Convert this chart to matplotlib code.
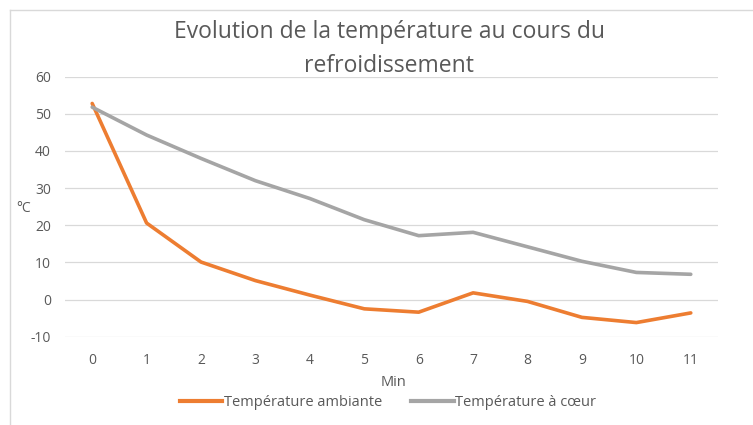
import matplotlib
matplotlib.use("Agg")
import matplotlib.pyplot as plt
from matplotlib.lines import Line2D

minutes = [0, 1, 2, 3, 4, 5, 6, 7, 8, 9, 10, 11]
temp_ambiante = [52.8, 20.6, 10.1, 5.1, 1.2, -2.5, -3.4, 1.8, -0.5, -4.8, -6.2, -3.6]
temp_coeur = [51.8, 44.3, 38.0, 32.0, 27.2, 21.5, 17.2, 18.1, 14.2, 10.3, 7.3, 6.8]
y_ticks = [-10, 0, 10, 20, 30, 40, 50, 60]

plt.rcParams['font.family'] = ['Open Sans', 'DejaVu Sans']
plt.rcParams['axes.unicode_minus'] = False
txt = '#595959'

fig = plt.figure(figsize=(7.53, 4.25), dpi=100)
ax = fig.add_axes([0.0863, 0.2078, 0.8672, 0.6117])

ax.plot(minutes, temp_ambiante, color='#ED7D31', lw=2.6, solid_joinstyle='round',
        solid_capstyle='round', label='Température ambiante', zorder=3)
ax.plot(minutes, temp_coeur, color='#A5A5A5', lw=2.6, solid_joinstyle='round',
        solid_capstyle='round', label='Température à cœur', zorder=3)

ax.set_xlim(-0.5, 11.5)
ax.set_ylim(-10, 60)
ax.set_xticks(minutes)
ax.set_xticklabels([str(m) for m in minutes])
ax.set_yticks(y_ticks)
ax.set_yticklabels([str(v) for v in y_ticks])
ax.grid(axis='y', color='#D9D9D9', lw=0.9)
ax.set_axisbelow(True)
for s in ax.spines.values():
    s.set_visible(False)
ax.tick_params(axis='both', length=0, colors=txt, labelsize=10)
ax.tick_params(axis='x', pad=12)
ax.tick_params(axis='y', pad=10)

fig.text(24 / 753, 1 - 208 / 425, '°C', color=txt, fontsize=10, ha='center', va='center')
fig.text(394 / 753, 1 - 383 / 425, 'Min', color=txt, fontsize=10.5, ha='center', va='center')

fig.text(389 / 753, 1 - 32 / 425, 'Evolution de la température au cours du', color=txt,
         fontsize=16.5, ha='center', va='center')
fig.text(389 / 753, 1 - 66 / 425, 'refroidissement', color=txt,
         fontsize=16.5, ha='center', va='center')

handles = [Line2D([], [], color='#ED7D31', lw=3), Line2D([], [], color='#A5A5A5', lw=3)]
leg = fig.legend(handles, ['Température ambiante', 'Température à cœur'], loc='center',
                 bbox_to_anchor=(388 / 753, 1 - 403 / 425), ncol=2, frameon=False,
                 fontsize=10.5, handlelength=2.9, handletextpad=0.1, columnspacing=2.0)
for t in leg.get_texts():
    t.set_color(txt)

# chart border (top and left visible)
fig.add_artist(Line2D([10 / 753, 10 / 753], [0, 1 - 10 / 425], color='#D9D9D9', lw=1,
                      transform=fig.transFigure))
fig.add_artist(Line2D([10 / 753, 1], [1 - 10 / 425, 1 - 10 / 425], color='#D9D9D9', lw=1,
                      transform=fig.transFigure))

fig.savefig('out.png', dpi=100, facecolor='white')
